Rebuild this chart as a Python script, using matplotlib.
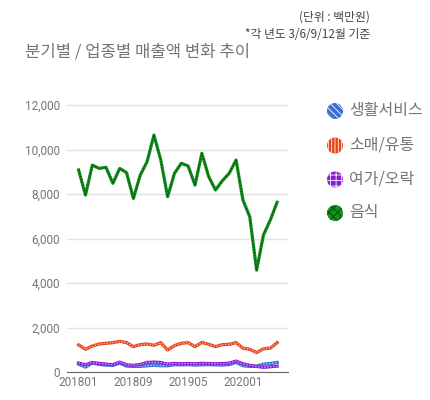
import matplotlib
matplotlib.use("Agg")
import matplotlib.pyplot as plt
from matplotlib.patches import Circle

plt.rcParams["font.family"] = ["Noto Sans CJK KR", "DejaVu Sans"]
plt.rcParams["hatch.linewidth"] = 0.6

# monthly categories 201801 .. 202006
months = [f"{y}{m:02d}" for y in (2018, 2019, 2020) for m in range(1, 13)][:30]
tick_labels = ["201801", "201809", "201905", "202001"]

series_names = ["생활서비스", "소매/유통", "여가/오락", "음식"]

service = [355, 220, 400, 340, 310, 300, 400, 265, 250, 250, 280, 300, 280, 280, 325,
           320, 330, 310, 320, 330, 320, 310, 330, 430, 280, 250, 265, 355, 385, 430]
retail = [1215, 1020, 1170, 1260, 1290, 1320, 1380, 1320, 1140, 1230, 1260, 1200, 1320, 990, 1185,
          1290, 1320, 1140, 1330, 1245, 1140, 1230, 1245, 1320, 1070, 1020, 875, 1040, 1070, 1320]
leisure = [400, 325, 430, 385, 355, 325, 445, 325, 300, 340, 430, 445, 430, 355, 385,
           370, 380, 370, 390, 380, 370, 380, 400, 490, 370, 300, 250, 210, 235, 265]
food = [9080, 7950, 9300, 9150, 9200, 8480, 9150, 8960, 7800, 8850, 9450, 10650, 9530, 7880, 8930,
        9380, 9260, 8400, 9830, 8780, 8180, 8600, 8930, 9530, 7730, 6980, 4580, 6160, 6830, 7630]

colors = ["#3a6fd8", "#e8431a", "#8a1ad8", "#14901e"]
overlay = ["#a9c1f0", "#f7b19c", "#d3a3f5", "#0a4f10"]

fig = plt.figure(figsize=(4.3, 4.0), dpi=100)
ax = fig.add_axes([0.155, 0.07, 0.515, 0.6925])

x = list(range(len(months)))
for vals, c, oc in zip([service, retail, leisure, food], colors, overlay):
    ax.plot(x, vals, color=c, lw=2.3, solid_joinstyle="round", clip_on=False)
    ax.plot(x, vals, color=oc, lw=0.9, ls=(0, (1.2, 1.2)), clip_on=False)

ax.set_xlim(-1.75, 30.6)
ax.set_ylim(0, 12450)
ax.set_yticks(range(0, 12001, 2000))
ax.set_yticklabels([f"{v:,}" for v in range(0, 12001, 2000)])
ax.set_xticks([months.index(t) for t in tick_labels])
ax.set_xticklabels(tick_labels)
ax.grid(axis="y", color="#e3e3e3", lw=1)
ax.set_axisbelow(True)
for s in ["top", "right", "left"]:
    ax.spines[s].set_visible(False)
ax.spines["bottom"].set_color("#666666")
ax.tick_params(length=0, colors="#757575", labelsize=8.5)
ax.tick_params(axis="y", pad=5)
ax.tick_params(axis="x", pad=3)
for lab in ax.get_xticklabels() + ax.get_yticklabels():
    lab.set_fontfamily("Roboto")

# overlay in pixel coordinates for titles and legend
ov = fig.add_axes([0, 0, 1, 1], facecolor="none")
ov.set_xlim(0, 430)
ov.set_ylim(400, 0)
ov.axis("off")

ov.text(370, 17, "(단위 : 백만원)", ha="right", va="center", fontsize=8.5, color="#444444")
ov.text(370, 34, "*각 년도 3/6/9/12월 기준", ha="right", va="center", fontsize=8.5, color="#444444")
ov.text(25, 52, "분기별 / 업종별 매출액 변화 추이", ha="left", va="center", fontsize=12, color="#757575")

hatches = ["\\\\\\\\\\", "|||||", "+++", "xxxx"]
hatch_colors = ["white", "white", "white", "#053d0b"]
legend_y = [111, 145.5, 179.5, 213]
for name, c, h, hc, ly in zip(series_names, colors, hatches, hatch_colors, legend_y):
    ov.add_patch(Circle((335, ly), 8, facecolor=c, edgecolor=hc, lw=0, hatch=h))
    ov.text(349, ly, name, ha="left", va="center", fontsize=11.5, color="#757575")

fig.savefig("out.png", dpi=100)
